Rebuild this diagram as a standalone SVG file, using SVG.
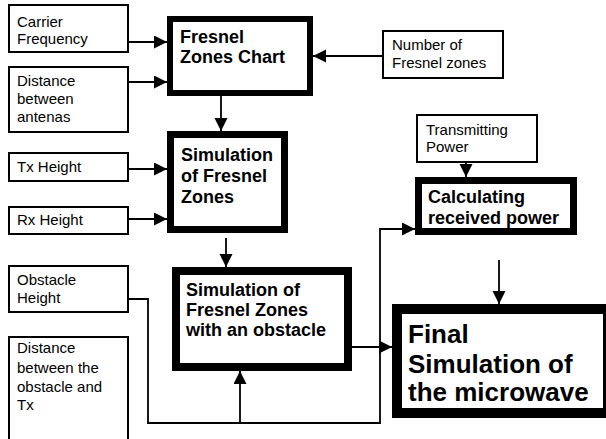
<svg xmlns="http://www.w3.org/2000/svg" width="606" height="439" viewBox="0 0 606 439">
<defs>
<style>
.in{fill:#fff;stroke:#000;stroke-width:2}
.pr{fill:#fff;stroke:#000}
.t{font-family:"Liberation Sans",Arial,sans-serif;font-size:15px;fill:#000}
.b{font-family:"Liberation Sans",Arial,sans-serif;font-size:18px;font-weight:bold;fill:#000}
.f{font-family:"Liberation Sans",Arial,sans-serif;font-size:26px;font-weight:bold;fill:#000}
.c{fill:none;stroke:#000;stroke-width:1.8}
.a{marker-end:url(#ah)}
</style>
<marker id="ah" markerUnits="userSpaceOnUse" markerWidth="14" markerHeight="14" refX="13" refY="6.5" orient="auto">
<path d="M0,0 L13,6.5 L0,13 z" fill="#000"/>
</marker>
</defs>
<rect width="606" height="439" fill="#fff"/>
<g id="connectors">
<line class="c a" x1="128" y1="42" x2="167" y2="42"/>
<line class="c a" x1="128" y1="82" x2="167" y2="82"/>
<line class="c a" x1="383" y1="56" x2="313" y2="56"/>
<line class="c a" x1="221" y1="96" x2="221" y2="131"/>
<line class="c a" x1="128" y1="169" x2="167" y2="169"/>
<line class="c a" x1="128" y1="219" x2="167" y2="219"/>
<line class="c a" x1="226" y1="238" x2="226" y2="267"/>
<line class="c a" x1="466" y1="162" x2="466" y2="177"/>
<line class="c a" x1="499" y1="260" x2="499" y2="304"/>
<line class="c a" x1="352" y1="347" x2="392" y2="347"/>
<polyline class="c a" points="128,299 148,299 148,423 380,423 380,229 415,229"/>
<line class="c a" x1="240" y1="423" x2="240" y2="371"/>
</g>
<g id="carrier">
<rect class="in" x="9" y="5" width="119" height="47"/>
<text class="t" x="17" y="27">Carrier</text>
<text class="t" x="17" y="44">Frequency</text>
</g>
<g id="distance-antenas">
<rect class="in" x="9" y="67" width="119" height="65"/>
<text class="t" x="17" y="86">Distance</text>
<text class="t" x="17" y="104">between</text>
<text class="t" x="17" y="122">antenas</text>
</g>
<g id="fresnel-chart">
<rect class="pr" stroke-width="6" x="170" y="19" width="140" height="74"/>
<text class="b" x="180" y="43">Fresnel</text>
<text class="b" x="180" y="63">Zones Chart</text>
</g>
<g id="number-zones">
<rect class="in" x="383" y="31" width="120" height="47"/>
<text class="t" x="392" y="50">Number of</text>
<text class="t" x="392" y="68">Fresnel zones</text>
</g>
<g id="tx-height">
<rect class="in" x="9" y="153" width="119" height="28"/>
<text class="t" x="17" y="172">Tx Height</text>
</g>
<g id="rx-height">
<rect class="in" x="9" y="207" width="119" height="27"/>
<text class="t" x="17" y="225">Rx Height</text>
</g>
<g id="simulation">
<rect class="pr" stroke-width="7" x="170.5" y="134.5" width="114" height="95"/>
<text class="b" x="181" y="161">Simulation</text>
<text class="b" x="181" y="182">of Fresnel</text>
<text class="b" x="181" y="203">Zones</text>
</g>
<g id="transmitting">
<rect class="in" x="417" y="115" width="120" height="47"/>
<text class="t" x="426" y="135">Transmitting</text>
<text class="t" x="426" y="152">Power</text>
</g>
<g id="calculating">
<rect class="pr" stroke-width="7" x="418.5" y="180.5" width="155" height="51"/>
<text class="b" x="428" y="203">Calculating</text>
<text class="b" x="428" y="224">received power</text>
</g>
<g id="obstacle-height">
<rect class="in" x="9" y="266" width="119" height="46"/>
<text class="t" x="17" y="285">Obstacle</text>
<text class="t" x="17" y="303">Height</text>
</g>
<g id="simulation-obstacle">
<rect class="pr" stroke-width="8" x="176" y="271" width="172" height="96"/>
<text class="b" x="186" y="296">Simulation of</text>
<text class="b" x="186" y="316">Fresnel Zones</text>
<text class="b" x="186" y="336">with an obstacle</text>
</g>
<g id="distance-obstacle">
<rect class="in" x="9" y="337" width="119" height="110"/>
<text class="t" x="17" y="353">Distance</text>
<text class="t" x="17" y="373">between the</text>
<text class="t" x="17" y="392">obstacle and</text>
<text class="t" x="17" y="410">Tx</text>
</g>
<g id="final">
<rect class="pr" stroke-width="10" x="397" y="309" width="211" height="104"/>
<text class="f" x="408" y="343">Final</text>
<text class="f" x="408" y="373">Simulation of</text>
<text class="f" x="408" y="401">the microwave</text>
</g>
</svg>
